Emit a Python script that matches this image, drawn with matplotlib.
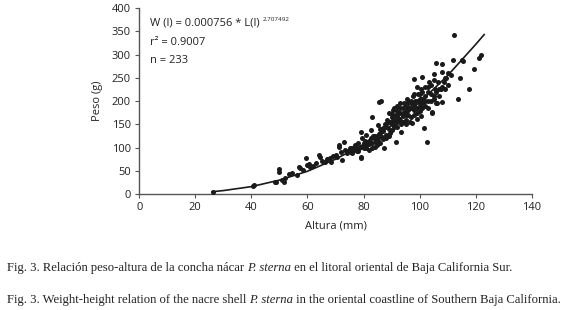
import numpy as np
import matplotlib.pyplot as plt

altura = [26.3, 40.8, 40.5, 48.5, 48.8, 49.8, 49.8, 51, 51.5, 52, 53.3, 54.5, 56.3, 56.9, 57.5, 58.5,
          59.3, 59.9, 60.5, 61, 62, 63, 64, 64.5, 65, 66.4, 67, 68, 68.5, 69, 70, 70.5, 71.2, 71.2, 72,
          72.4, 73, 73.5, 74, 74.5, 75, 75.5, 76, 76.5, 77, 77.5, 78, 78.5, 79, 79, 79, 79.5, 80, 80.5,
          80.7, 81, 81.5, 82, 82.5, 82.5, 83, 83, 83.5, 84, 84.5, 84.9, 85, 85.5, 85.5, 86, 86.3, 86.5,
          87, 87.3, 87.5, 88, 88, 88.5, 89, 89, 89.5, 90, 90, 90.5, 91, 91.4, 91.5, 92, 92, 92.5, 93,
          93.2, 93.5, 94, 94, 94.5, 95, 95, 95.5, 96, 96, 96.5, 97, 97.4, 97.5, 98, 98, 98.5, 99, 99.2,
          99.5, 100, 100, 100.4, 100.5, 101, 101, 101.6, 102, 102, 102.5, 103, 103, 103.5, 104, 104.3,
          104.5, 105, 105, 105.5, 106, 106, 106.3, 106.5, 107, 107.5, 107.9, 107.9, 108, 108.6, 109,
          109.3, 110, 111.8, 112.3, 113.5, 114.3, 115.2, 115.6, 117.5, 119.3, 121, 122,
          76, 77, 78, 79, 80, 80, 81, 82, 82, 83, 84, 84, 85, 85, 86, 86, 87, 87, 88, 88, 89, 89, 90, 90,
          90, 91, 91, 91, 92, 92, 92, 93, 93, 93, 94, 94, 95, 95, 95, 96, 96, 97, 97, 97, 98, 98, 98, 99,
          99, 99, 100, 100, 100, 101, 101, 101, 102, 102, 103, 103, 104, 104, 105, 105, 106, 107, 108,
          109, 110, 111]
peso = [5, 19, 17, 27, 25, 48, 53, 30, 26, 34, 44, 46, 41, 59, 55, 52,
        77, 62, 64, 58, 60, 66, 84, 80, 72, 70, 75, 78, 70, 82, 85, 80, 102, 105, 90,
        73, 112, 95, 88, 92, 98, 90, 100, 95, 105, 92, 110, 100, 134, 80, 77, 120, 105, 115,
        127, 98, 112, 108, 138, 120, 166, 100, 125, 118, 112, 105, 148, 198, 130, 140, 200, 122,
        135, 100, 150, 128, 145, 160, 140, 175, 132, 150, 165, 180, 145, 112, 170, 155, 190, 162, 175,
        134, 150, 185, 168, 195, 160, 178, 205, 170, 188, 155, 195, 152, 210, 180, 247, 200, 175, 161,
        215, 190, 205, 168, 225, 251, 195, 141, 210, 230, 111, 200, 220, 240, 215, 175,
        177, 258, 204, 225, 281, 196, 195, 240, 225, 226, 263, 198, 279, 241, 227,
        249, 235, 288, 341, 204, 249, 289, 287, 226, 269, 292, 300,
        88, 96, 92, 102, 98, 110, 104, 95, 115, 110, 102, 125, 115, 120, 110, 132, 118, 142, 120, 150,
        125, 155, 138, 158, 172, 150, 162, 185, 145, 168, 178, 160, 185, 195, 155, 175, 170, 190, 150,
        180, 198, 165, 185, 200, 170, 192, 215, 185, 200, 230, 178, 195, 215, 185, 205, 220, 190, 200,
        185, 230, 200, 235, 210, 245, 220, 210, 230, 250, 260, 255]

# fitted curve W = 0.000756 * L^2.707492, read at a few heights
curva_x = [26, 30, 40, 50, 60, 70, 80, 90, 100, 110, 120, 123]
curva_y = [5, 7.5, 16, 30, 49, 75, 107, 148, 197, 255, 322, 343]

plt.rcParams['font.family'] = ['Open Sans', 'DejaVu Sans']

fig = plt.figure(figsize=(5.8, 3.1), dpi=100)
ax = fig.add_axes([0.24, 0.374, 0.677, 0.60])

ax.scatter(altura, peso, s=13, color='#1a1a1a', zorder=3, linewidths=0)
ax.plot(curva_x, curva_y, color='#1a1a1a', lw=1.2, zorder=2)

ax.set_xlim(0, 140)
ax.set_ylim(0, 400)
ax.set_xticks(range(0, 141, 20))
ax.set_yticks(range(0, 401, 50))
for s in ['top', 'right']:
    ax.spines[s].set_visible(False)
for s in ['left', 'bottom']:
    ax.spines[s].set_color('#555555')
    ax.spines[s].set_linewidth(1)
ax.tick_params(labelsize=8, length=3, color='#555555', colors='#222222', pad=3)
ax.set_xlabel('Altura (mm)', fontsize=8, labelpad=5, color='#222222')
ax.set_ylabel('Peso (g)', fontsize=8, labelpad=6, color='#222222')

t = ax.text(4, 368, 'W (l) = 0.000756 * L(l) ', fontsize=8, va='center', color='#222222')
ax.annotate('2.707492', xy=(1, 0.55), xycoords=t, fontsize=4.5, va='bottom', color='#222222')
ax.text(4, 327, 'r² = 0.9007', fontsize=8, va='center', color='#222222')
ax.text(4, 287, 'n = 233', fontsize=8, va='center', color='#222222')

# captions in serif, species name in italic
def caption(y, antes, despues):
    kw = dict(fontsize=9.1, family='Liberation Serif', va='bottom', color='#222222')
    a = fig.text(0.012, y, antes, **kw)
    b = fig.add_artist(plt.Annotation('P. sterna', xy=(1, 0), xycoords=a, style='italic', **kw))
    fig.add_artist(plt.Annotation(despues, xy=(1, 0), xycoords=b, **kw))

caption(1 - 274 / 310, 'Fig. 3. Relación peso-altura de la concha nácar ',
        ' en el litoral oriental de Baja California Sur.')
caption(1 - 306 / 310, 'Fig. 3. Weight-height relation of the nacre shell ',
        ' in the oriental coastline of Southern Baja California.')

fig.savefig('out.png', dpi=100)
